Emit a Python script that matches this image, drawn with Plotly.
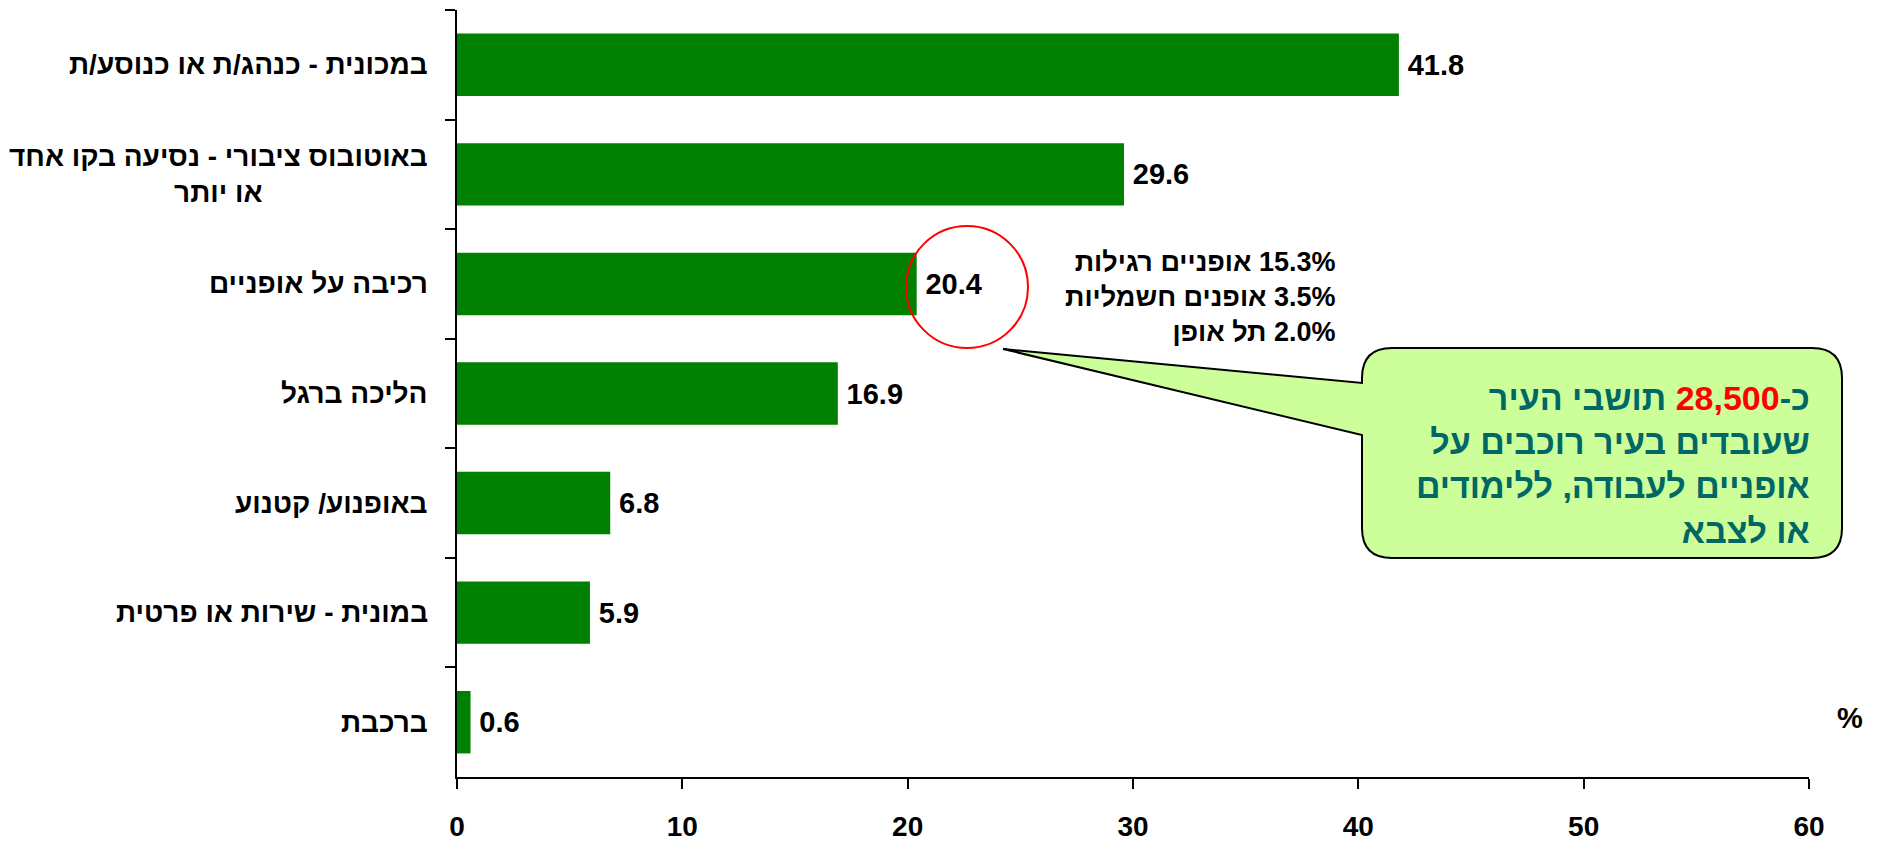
import plotly.graph_objects as go

# modes of commuting (top to bottom) and share in percent
categories = ['במכונית - כנהג/ת או כנוסע/ת',
              'באוטובוס ציבורי - נסיעה בקו אחד<br>או יותר',
              'רכיבה על אופניים',
              'הליכה ברגל',
              'באופנוע/ קטנוע',
              'במונית - שירות או פרטית',
              'ברכבת']
values = [41.8, 29.6, 20.4, 16.9, 6.8, 5.9, 0.6]

x_ticks = [0, 10, 20, 30, 40, 50, 60]

bike_breakdown = ['\u200f15.3% אופניים רגילות',
                  '\u200f3.5% אופנים חשמליות',
                  '\u200f2.0% תל אופן']

callout_lines = ['כ-<span style="color:#ff0000">28,500</span> תושבי העיר',
                 'שעובדים בעיר רוכבים על',
                 'אופניים לעבודה, ללימודים',
                 'או לצבא']

FONT = 'Liberation Sans, Arial, sans-serif'
W, H = 1886, 841
L, R, T, B = 457, 77, 10, 64
PW, PH = W - L - R, H - T - B


def px_to_paper(px, py):
    return (px - L) / PW, (H - B - py) / PH


def callout_path(left, top, right, bottom, rad, tip, tail_top, tail_bot):
    pts = []

    def p(px, py):
        x, y = px_to_paper(px, py)
        return f'{x:.5f},{y:.5f}'

    pts.append('M' + p(left + rad, top))
    pts.append('L' + p(right - rad, top))
    pts.append('Q' + p(right, top) + ' ' + p(right, top + rad))
    pts.append('L' + p(right, bottom - rad))
    pts.append('Q' + p(right, bottom) + ' ' + p(right - rad, bottom))
    pts.append('L' + p(left + rad, bottom))
    pts.append('Q' + p(left, bottom) + ' ' + p(left, bottom - rad))
    pts.append('L' + p(left, tail_bot))
    pts.append('L' + p(*tip))
    pts.append('L' + p(left, tail_top))
    pts.append('L' + p(left, top + rad))
    pts.append('Q' + p(left, top) + ' ' + p(left + rad, top))
    pts.append('Z')
    return ' '.join(pts)


fig = go.Figure()

fig.add_trace(go.Bar(
    x=values,
    y=categories,
    orientation='h',
    marker=dict(color='#008000', line_width=0),
    text=values,
    texttemplate='\u2009%{x:.1f}',
    textposition='outside',
    textfont=dict(family=FONT, size=29, color='black', weight='bold'),
    cliponaxis=False,
    showlegend=False
))

annotations = []
for cat in categories:
    annotations.append(dict(
        x=0, xref='paper', xanchor='right', xshift=-27,
        y=cat, yref='y', yanchor='middle',
        text='<b>' + cat + '</b>', align='center', showarrow=False,
        font=dict(family=FONT, size=28, color='black', weight='bold')
    ))

bx, by = px_to_paper(1338, 297)
annotations.append(dict(
    x=bx, y=by, xref='paper', yref='paper', xanchor='right', yanchor='middle',
    text='<br>'.join('<b>' + s + '</b>' for s in bike_breakdown), align='right', showarrow=False,
    font=dict(family=FONT, size=27, color='black', weight='bold')
))

cx, cy = px_to_paper(1812, 464)
annotations.append(dict(
    x=cx, y=cy, xref='paper', yref='paper', xanchor='right', yanchor='middle',
    text='<br>'.join('<b>' + s + '</b>' for s in callout_lines), align='right', showarrow=False,
    font=dict(family=FONT, size=34, color='#006666', weight='bold')
))

ux, uy = px_to_paper(1850, 718)
annotations.append(dict(
    x=ux, y=uy, xref='paper', yref='paper', xanchor='center', yanchor='middle',
    text='<b>%</b>', showarrow=False,
    font=dict(family=FONT, size=29, color='black', weight='bold')
))

c0 = px_to_paper(906, 348)
c1 = px_to_paper(1028, 226)

shapes = [
    dict(type='path', xref='paper', yref='paper',
         path=callout_path(1362, 348, 1842, 558, 30, (1003, 349), 383, 435),
         fillcolor='#ccff99', line=dict(color='black', width=2), layer='above'),
    dict(type='circle', xref='paper', yref='paper',
         x0=c0[0], y0=c0[1], x1=c1[0], y1=c1[1],
         line=dict(color='#ff0000', width=2), layer='above'),
]

fig.update_layout(
    template='none',
    width=W, height=H,
    margin=dict(l=L, r=R, t=T, b=B, autoexpand=False),
    plot_bgcolor='white',
    paper_bgcolor='white',
    bargap=0.43,
    annotations=annotations,
    shapes=shapes,
    xaxis=dict(range=[0, 60], tickvals=x_ticks, showgrid=False, zeroline=False,
               showline=True, linecolor='black', linewidth=2, automargin=False,
               ticks='outside', ticklen=10, tickwidth=2, tickcolor='black',
               tickfont=dict(family=FONT, size=28, color='black', weight='bold'),
               ticklabelstandoff=13),
    yaxis=dict(autorange='reversed', showgrid=False, zeroline=False,
               showline=True, linecolor='black', linewidth=2, automargin=False,
               ticks='outside', ticklen=10, tickwidth=2, tickcolor='black',
               tickson='boundaries', showticklabels=False)
)

fig.write_html('out.html', config={'displayModeBar': False},
               post_script="document.body.style.margin='0';")
